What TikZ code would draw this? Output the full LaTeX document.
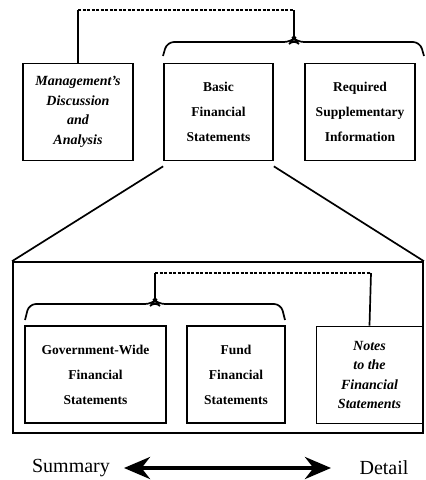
\documentclass[tikz,border=0pt]{standalone}
\usepackage{fontspec}
\setmainfont{Liberation Serif}
\usetikzlibrary{arrows.meta}

\begin{document}
\begin{tikzpicture}[x=1pt, y=-1pt, line width=1.7pt,
    box/.style = {draw, inner sep=0pt, align=center, minimum height=97pt,
                  font=\fontsize{13.5}{25}\selectfont\bfseries},
    scriptbox/.style = {box, font=\fontsize{14}{19.5}\selectfont\bfseries\itshape},
    tie/.style = {dashed, dash pattern=on 3pt off 1.5pt},
    brace/.style = {rounded corners=7pt}]
\useasboundingbox (0,0) rectangle (426,480);

% top level
\node[scriptbox, minimum width=110pt] (mda) at (78,112) {Management's\\Discussion\\and\\Analysis};
\node[box, minimum width=109pt] (basic) at (218.5,112) {Basic\\Financial\\Statements};
\node[box, minimum width=110pt] (rsi) at (360,112) {Required\\Supplementary\\Information};

\coordinate (topjoin) at (294,39);
\draw[brace] (163,56) -- (167,42) -- (291,42) -- (topjoin) -- (297,42) -- (420,42) -- (424,56);
\draw (mda.north) -- (78,10) coordinate (topleft);
\draw[tie] (topleft) -- (294,10) coordinate (topright);
\draw (topright) -- (topjoin);

% zoom into the basic statements
\node[draw, minimum width=410pt, minimum height=171pt, inner sep=0pt] (detail) at (218,347.5) {};
\draw ([yshift=-5pt]basic.south west) -- (detail.north west);
\draw ([yshift=-5pt]basic.south east) -- (detail.north east);

\node[box, minimum width=141pt] (gw) at (95.5,374.5) {Government-Wide\\Financial\\Statements};
\node[box, minimum width=98pt] (fund) at (236,374.5) {Fund\\Financial\\Statements};
\node[scriptbox, minimum width=106pt] (notes) at (369.5,375) {Notes\\to the\\Financial\\Statements};

\coordinate (subjoin) at (155,301);
\draw[brace] (25,320) -- (29,304) -- (152,304) -- (subjoin) -- (158,304) -- (281,304) -- (285,320);
\draw (subjoin) -- (155,273) coordinate (subleft);
\draw[tie] (subleft) -- (371,273) coordinate (subright);
\draw (subright) -- (notes.north);

% summary / detail scale
\node[font=\fontsize{20}{20}\selectfont] (summary) at (71,468) {Summary};
\node[font=\fontsize{20}{20}\selectfont] (detailtxt) at (384,468) {Detail};
\draw[line width=4pt, {Stealth[length=26pt,width=22pt]}-{Stealth[length=26pt,width=22pt]}]
    (124,468) -- (331,468);
\end{tikzpicture}
\end{document}
